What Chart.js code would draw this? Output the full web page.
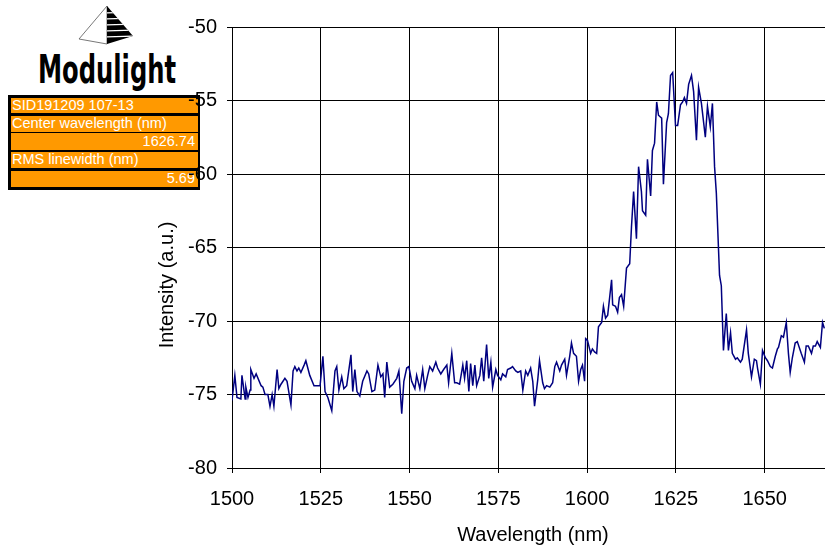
<!DOCTYPE html>
<html>
<head>
<meta charset="utf-8">
<script src="https://cdn.jsdelivr.net/npm/chart.js@4"></script>
<style>
  html, body { margin: 0; padding: 0; background: #fff; }
  #wrap { position: relative; width: 825px; height: 548px; overflow: hidden; }
  #speedless { position: absolute; left: 0; top: 0; z-index: 2; }
  .logo-text { position: absolute; left: 38px; top: 47px; font: bold 39px "DejaVu Sans Condensed", "DejaVu Sans", sans-serif;
    color: #000; white-space: nowrap; transform-origin: left top; z-index: 1; }
  .box { position: absolute; left: 8px; top: 95px; width: 192px; height: 95px; background: #000; z-index: 1; }
  .row { position: absolute; left: 11px; width: 187px; background: #ff9900; color: #fff;
    font: 14.5px "Liberation Sans", Arial, sans-serif; white-space: nowrap; overflow: hidden; z-index: 1; box-sizing: border-box; padding: 0 3px 0 1px; }
  .right { text-align: right; }
</style>
</head>
<body>
<div id="wrap">
  <svg width="200" height="50" style="position:absolute;left:0;top:0;z-index:1">
    <defs>
      <clipPath id="rface"><polygon points="107,6 107,44 133,36"/></clipPath>
    </defs>
    <polygon points="107,6 79,39 107,44" fill="#fff" stroke="#555" stroke-width="0.8"/>
    <polygon points="107,6 107,44 133,36" fill="#000"/>
    <g clip-path="url(#rface)" stroke="#fff" stroke-width="1.2">
      <line x1="100" y1="13" x2="140" y2="12"/>
      <line x1="100" y1="19" x2="140" y2="18"/>
      <line x1="100" y1="25" x2="140" y2="24"/>
      <line x1="100" y1="31" x2="140" y2="30"/>
      <line x1="100" y1="37" x2="140" y2="36"/>
    </g>
  </svg>
  <div class="logo-text" id="logo">Modulight</div>
  <div class="box"></div>
  <div class="row" style="top:98px;height:15px;line-height:15px">SID191209 107-13</div>
  <div class="row" style="top:116px;height:16px;line-height:15px">Center wavelength (nm)</div>
  <div class="row right" style="top:133px;height:17px;line-height:16px">1626.74</div>
  <div class="row" style="top:152px;height:16px;line-height:15px">RMS linewidth (nm)</div>
  <div class="row right" style="top:171px;height:16px;line-height:15px">5.69</div>
  <canvas id="speedless" width="825" height="548"></canvas>
</div>
<script>
// spectrum (nm, a.u.)
const wavelengths = [
  1500.0, 1500.8, 1501.4, 1502.5, 1502.8, 1503.7, 1503.9, 1504.5, 1505.1, 1505.3,
  1506.2, 1506.8, 1508.2, 1508.7, 1509.3, 1510.1, 1510.7, 1511.3, 1511.8, 1512.7,
  1513.2, 1513.8, 1514.9, 1515.5, 1516.6, 1517.2, 1517.7, 1518.3, 1518.8, 1519.4,
  1520.3, 1520.8, 1521.9, 1523.1, 1524.8, 1525.6, 1526.2, 1527.0, 1528.1, 1529.0,
  1529.5, 1530.1, 1530.9, 1531.5, 1532.3, 1533.5, 1534.0, 1534.6, 1535.2, 1536.0,
  1536.8, 1538.0, 1538.5, 1539.4, 1540.2, 1541.1, 1541.9, 1542.5, 1543.0, 1543.6,
  1544.4, 1545.3, 1546.4, 1547.0, 1547.8, 1548.4, 1549.2, 1549.8, 1550.6, 1551.5,
  1552.0, 1552.9, 1553.7, 1554.3, 1555.1, 1555.7, 1556.5, 1557.4, 1557.9, 1558.8,
  1559.6, 1560.5, 1561.0, 1561.9, 1562.7, 1563.3, 1564.1, 1565.0, 1565.5, 1566.1,
  1566.7, 1567.2, 1567.8, 1568.4, 1568.9, 1569.8, 1570.3, 1570.9, 1571.7, 1572.3,
  1572.9, 1573.4, 1574.3, 1574.8, 1575.7, 1576.2, 1577.1, 1577.6, 1578.5, 1579.0,
  1579.9, 1580.5, 1581.3, 1581.9, 1582.7, 1583.3, 1584.1, 1584.7, 1585.2, 1586.1,
  1586.6, 1587.5, 1588.0, 1588.6, 1589.5, 1590.3, 1590.9, 1591.4, 1592.3, 1592.8,
  1593.7, 1594.2, 1595.1, 1595.6, 1596.2, 1597.0, 1597.6, 1598.2, 1598.7, 1599.3,
  1599.6, 1600.1, 1601.0, 1601.5, 1602.1, 1602.7, 1603.2, 1604.1, 1604.6, 1605.2,
  1605.8, 1606.9, 1607.2, 1608.0, 1608.6, 1609.1, 1609.7, 1610.3, 1611.1, 1612.0,
  1612.5, 1613.1, 1613.9, 1614.5, 1615.3, 1615.6, 1616.5, 1617.0, 1617.9, 1618.4,
  1619.0, 1619.6, 1620.1, 1621.0, 1621.5, 1622.4, 1622.9, 1623.5, 1624.1, 1624.9,
  1625.5, 1626.3, 1626.9, 1627.4, 1628.0, 1628.6, 1629.4, 1630.0, 1630.8, 1631.4,
  1632.2, 1633.3, 1633.9, 1634.7, 1635.3, 1635.9, 1636.4, 1637.3, 1637.8, 1638.4,
  1639.2, 1639.8, 1640.4, 1640.9, 1641.8, 1642.3, 1643.2, 1643.7, 1644.9, 1645.4,
  1646.3, 1647.1, 1647.7, 1648.0, 1648.8, 1649.4, 1650.2, 1650.8, 1651.6, 1652.2,
  1653.0, 1653.6, 1653.9, 1654.7, 1655.3, 1656.1, 1656.7, 1657.2, 1657.8, 1658.6,
  1659.2, 1660.3, 1661.2, 1661.7, 1662.3, 1663.2, 1663.7, 1664.3, 1664.8, 1665.7,
  1666.3, 1666.8
];
const intensities = [
  -75.4, -73.7, -75.2, -75.3, -73.7, -75.3, -74.5, -75.2, -74.7, -73.3,
  -73.9, -73.6, -74.4, -74.5, -75.0, -75.0, -75.8, -75.0, -75.8, -73.3,
  -74.6, -74.3, -73.9, -74.1, -75.7, -73.4, -73.1, -73.4, -73.2, -73.5,
  -73.0, -72.7, -73.7, -74.4, -74.4, -72.4, -74.8, -75.2, -76.1, -73.4,
  -73.1, -74.7, -73.8, -74.6, -74.4, -72.3, -74.8, -73.3, -74.8, -75.1,
  -74.1, -73.4, -73.6, -74.8, -74.7, -73.0, -73.8, -73.6, -75.2, -72.8,
  -74.5, -74.3, -73.9, -73.4, -76.3, -74.1, -73.2, -73.1, -74.1, -74.6,
  -73.7, -74.6, -73.3, -74.6, -73.7, -73.1, -73.4, -72.8, -73.2, -73.6,
  -73.3, -73.0, -74.2, -72.2, -74.2, -74.2, -74.3, -73.0, -73.9, -72.7,
  -74.8, -72.9, -74.4, -73.0, -74.4, -73.7, -72.5, -74.1, -71.6, -73.9,
  -72.8, -74.5, -73.3, -73.7, -74.0, -73.6, -73.8, -73.3, -73.2, -73.1,
  -73.4, -73.5, -73.4, -74.7, -73.4, -73.7, -73.2, -74.1, -75.8, -74.0,
  -72.7, -74.2, -74.6, -74.4, -74.5, -74.2, -73.1, -72.8, -73.4, -73.0,
  -72.6, -73.7, -72.4, -71.5, -72.2, -72.4, -74.1, -73.3, -73.0, -74.1,
  -71.2, -71.3, -72.2, -71.9, -72.1, -72.2, -70.4, -70.1, -69.0, -69.8,
  -69.6, -67.2, -68.9, -69.0, -69.4, -68.4, -68.2, -69.0, -66.4, -66.1,
  -63.6, -61.2, -64.4, -59.5, -61.2, -62.5, -62.8, -59.0, -61.5, -58.4,
  -57.9, -55.1, -56.0, -56.2, -60.7, -56.5, -55.9, -53.3, -53.1, -56.7,
  -56.7, -55.3, -55.1, -54.8, -55.2, -53.9, -53.3, -54.4, -57.7, -54.1,
  -55.2, -57.5, -55.4, -56.8, -55.2, -59.5, -61.3, -66.9, -67.6, -72.0,
  -69.5, -72.0, -70.8, -72.2, -72.6, -72.5, -72.8, -72.6, -70.6, -72.2,
  -73.8, -72.6, -72.7, -73.2, -74.3, -72.0, -72.5, -72.7, -73.1, -73.2,
  -72.4, -71.9, -71.8, -71.0, -71.1, -70.1, -72.2, -73.5, -72.5, -71.5,
  -71.4, -72.2, -72.8, -71.7, -71.7, -72.2, -71.7, -71.7, -71.4, -71.8,
  -70.1, -70.5
];
const xTicks = [1500, 1525, 1550, 1575, 1600, 1625, 1650];
const yTicks = [-80, -75, -70, -65, -60, -55, -50];
const xTitle = 'Wavelength (nm)';
const yTitle = 'Intensity (a.u.)';

// squeeze the logo word to its width in the picture
const logo = document.getElementById('logo');
logo.style.transform = 'scaleX(' + (138 / logo.offsetWidth) + ')';

const FONT = '"Liberation Sans", Arial, sans-serif';

const axisTitles = {
  id: 'axisTitles',
  afterDraw(chart) {
    const c = chart.ctx;
    c.save();
    c.font = '20px ' + FONT;
    c.fillStyle = '#000';
    c.textAlign = 'center';
    c.textBaseline = 'middle';
    c.fillText(xTitle, 533, 535);
    c.translate(167, 285);
    c.rotate(-Math.PI / 2);
    c.fillText(yTitle, 0, 0);
    c.restore();
  }
};

const ctx = document.getElementById('speedless').getContext('2d');
const spectrumChart = new Chart(ctx, {
  type: 'line',
  data: {
    datasets: [{
      data: wavelengths.map((w, i) => ({ x: w, y: intensities[i] })),
      borderColor: '#000080',
      borderWidth: 1.5,
      pointRadius: 0,
      tension: 0,
      fill: false
    }]
  },
  options: {
    responsive: false,
    animation: false,
    devicePixelRatio: 1,
    layout: { padding: { top: 27, right: 0, bottom: 0, left: 0 } },
    scales: {
      x: {
        type: 'linear',
        min: 1500,
        max: 1667,
        afterBuildTicks: s => { s.ticks = xTicks.map(v => ({ value: v })); },
        afterFit: s => { s.height = 80; },
        grid: { color: '#000', lineWidth: 1, tickLength: 5 },
        border: { color: '#000', width: 1 },
        ticks: { color: '#000', font: { family: FONT, size: 20 }, padding: 14, maxRotation: 0, callback: v => String(v) }
      },
      y: {
        min: -80,
        max: -50,
        afterBuildTicks: s => { s.ticks = yTicks.map(v => ({ value: v })); },
        afterFit: s => { s.width = 232; },
        grid: { color: '#000', lineWidth: 1, tickLength: 5 },
        border: { color: '#000', width: 1 },
        ticks: { color: '#000', font: { family: FONT, size: 20 }, padding: 10, callback: v => String(v) }
      }
    },
    plugins: {
      legend: { display: false },
      tooltip: { enabled: false }
    }
  },
  plugins: [axisTitles]
});
</script>
</body>
</html>
